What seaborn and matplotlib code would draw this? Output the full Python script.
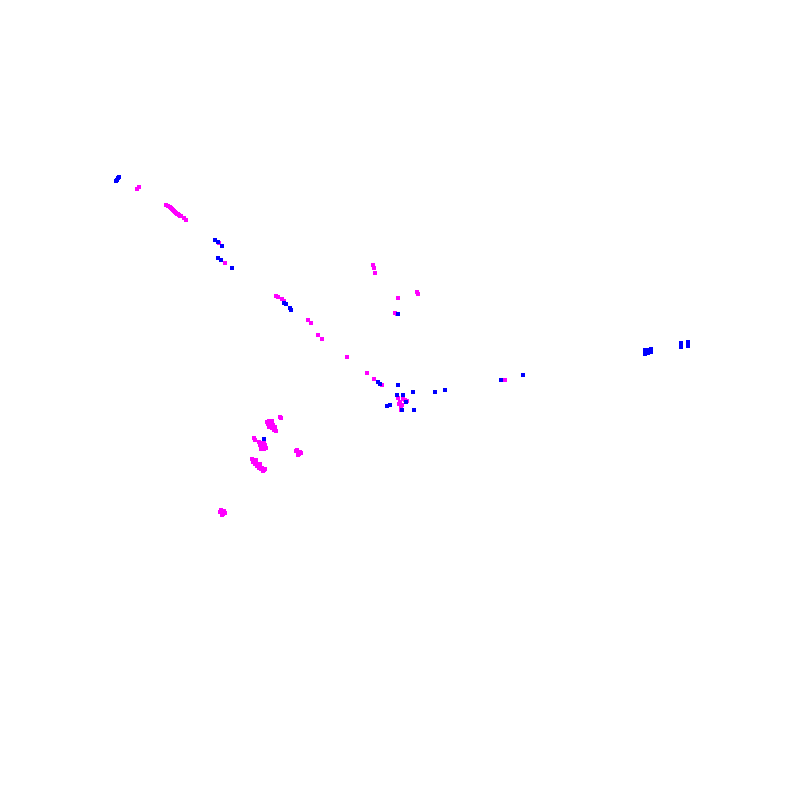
import pandas as pd
import matplotlib
matplotlib.use("Agg")
import matplotlib.pyplot as plt
import seaborn as sns

# point positions (canvas units, y grows downwards)
magenta_x = [137, 139, 166, 168, 170, 171, 172, 173, 174, 175, 176, 177, 178, 179, 180, 181,
             184, 186, 219, 225, 276, 278, 282, 284, 308, 311, 318, 322, 347,
             373, 374, 375, 398, 417, 418, 395, 397, 367, 374, 382, 398, 399, 400, 401,
             402, 403, 405, 407, 401, 505,
             267, 268, 269, 270, 271, 272, 273, 274, 275, 276, 269, 272, 280, 281,
             254, 255, 259, 260, 261, 262, 263, 264, 265, 266, 261, 264,
             252, 253, 254, 255, 256, 257, 258, 259, 260, 261, 262, 263, 264, 265, 256, 260,
             297, 298, 299, 300, 298, 296, 301, 221, 222, 223, 224, 222, 220, 225]
magenta_y = [189, 187, 205, 206, 207, 208, 209, 210, 211, 212, 213, 214, 214, 215, 216, 216,
             218, 220, 243, 263, 296, 297, 299, 301, 320, 323, 335, 339, 357,
             265, 268, 273, 298, 292, 294, 313, 314, 373, 379, 385, 398, 404, 402, 407,
             405, 399, 400, 401, 410, 380,
             422, 424, 421, 426, 423, 428, 425, 430, 427, 431, 427, 421, 417, 418,
             438, 440, 442, 445, 443, 447, 446, 449, 445, 448, 449, 443,
             459, 462, 460, 464, 462, 466, 465, 468, 466, 469, 468, 471, 470, 469, 460, 464,
             450, 452, 454, 452, 455, 451, 453, 510, 512, 514, 511, 515, 512, 513]

blue_x = [116, 117, 118, 119, 215, 218, 222, 218, 221, 232, 284, 286, 290, 291,
          645, 645, 645, 648, 648, 651, 651, 681, 681, 681, 688, 688,
          501, 523, 378, 380, 398, 397, 403, 413,
          387, 390, 406, 414, 402, 435, 445, 264, 398]
blue_y = [181, 180, 178, 177, 240, 242, 246, 258, 260, 268, 303, 304, 308, 310,
          350, 352, 354, 350, 353, 349, 352, 343, 345, 347, 342, 346,
          380, 375, 382, 384, 385, 395, 395, 392,
          406, 405, 402, 410, 410, 392, 390, 439, 314]

df = pd.concat([
    pd.DataFrame({"x": magenta_x, "y": magenta_y, "group": "m"}),
    pd.DataFrame({"x": blue_x, "y": blue_y, "group": "b"}),
])

fig = plt.figure(figsize=(8, 8), dpi=100)
ax = fig.add_axes([0, 0, 1, 1])
sns.scatterplot(data=df, x="x", y="y", hue="group",
                palette={"m": "#ff00ff", "b": "#0000ff"},
                marker="s", s=7, linewidth=0, legend=False, ax=ax)
ax.set_xlim(0, 800)
ax.set_ylim(800, 0)
ax.axis("off")
fig.savefig("out.png", dpi=100, facecolor="white")
